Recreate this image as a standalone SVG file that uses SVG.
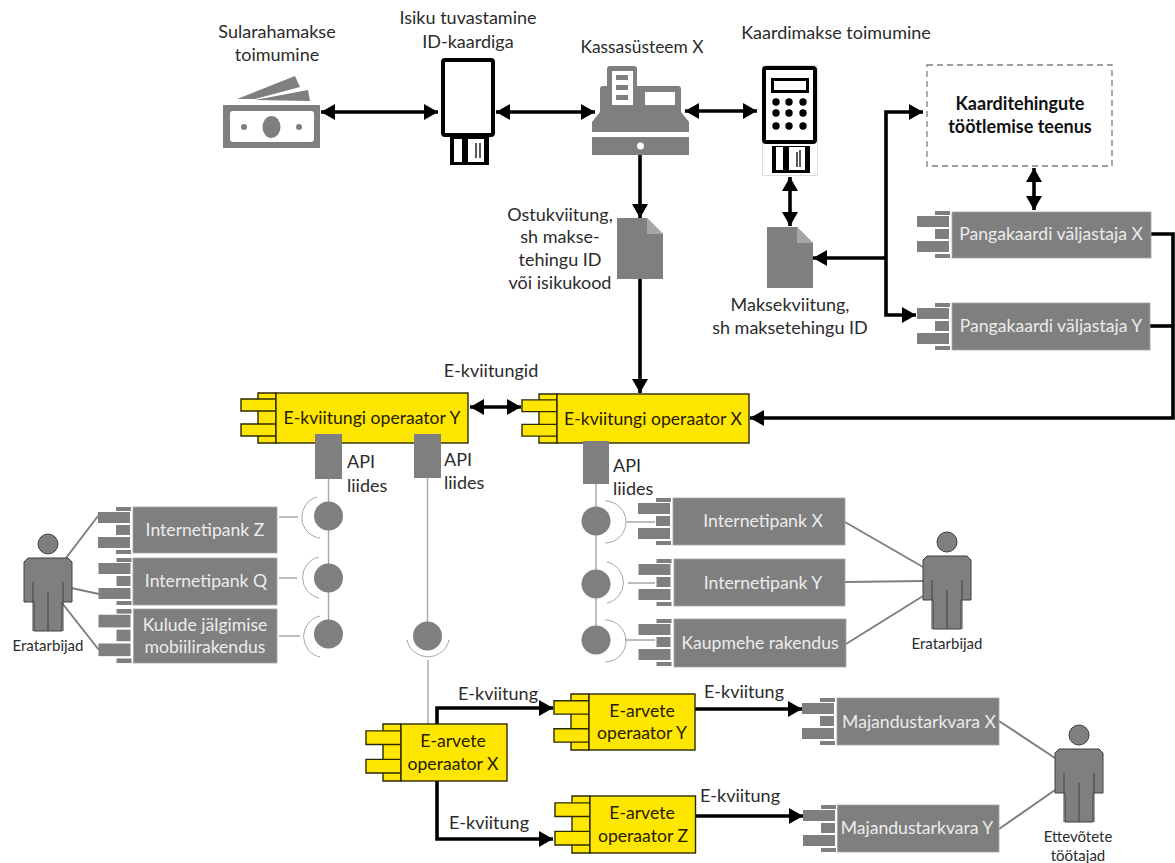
<svg xmlns="http://www.w3.org/2000/svg" width="1175" height="863" viewBox="0 0 1175 863">
<style>
text{font-family:Lato,"Liberation Sans",sans-serif;font-size:18px;fill:#2b2b2b;text-anchor:middle}
text.l{text-anchor:start}
text.w{fill:#ececec;font-size:17.6px}
text.y{fill:#262000;font-size:17.6px}
text.b{font-weight:700;fill:#111}
text.s{font-size:15px}
.g{fill:#7f7f7f}
.box{fill:#7f7f7f;stroke:#a6a6a6;stroke-width:.8}
.ybox{fill:#ffe600;stroke:#2b2b00;stroke-width:1.4}
.ytab rect{fill:#ffe600;stroke:#2b2b00;stroke-width:1.4;vector-effect:non-scaling-stroke}
.k{fill:none;stroke:#000;stroke-width:3.6}
.thin{fill:none;stroke:#a6a6a6;stroke-width:1.4}
.arc{fill:none;stroke:#a6a6a6;stroke-width:1}
.lnk{fill:none;stroke:#7f7f7f;stroke-width:2}
.a2{marker-start:url(#ah);marker-end:url(#ah)}
.a1{marker-end:url(#ah)}
</style>
<defs>
<marker id="ah" markerUnits="userSpaceOnUse" markerWidth="15" markerHeight="16" refX="14" refY="8" orient="auto-start-reverse"><path d="M0 0L14 8L0 16z" fill="#000"/></marker>
<g id="tabs" class="g"><rect x="-17" y="0" width="15" height="4"/><rect x="-35" y="5" width="32" height="11"/><rect x="-17" y="18" width="14" height="10"/><rect x="-35" y="30" width="32" height="11"/><rect x="-17" y="43" width="15" height="4"/></g>
<g id="ytabs" class="ytab"><rect x="-18" y="0" width="18" height="50"/><rect x="-35" y="6" width="35" height="12"/><rect x="-35" y="31" width="35" height="12"/></g>
<g id="person"><circle cx="0" cy="0" r="10" fill="#7f7f7f" stroke="#404040"/><path d="M-20 14H20L24 18V58H14V87H-14V58H-24V18z" fill="#7f7f7f" stroke="#404040"/><path d="M-15 38V87M15 38V87M0 48V87" fill="none" stroke="#404040"/></g>
<path id="doc" d="M0 0H30L46 16V61H0z" fill="#7f7f7f"/>
</defs>
<g id="connectors">
<path class="k a2" d="M321 112H438"/>
<path class="k a2" d="M496 112H595"/>
<path class="k a2" d="M685 111H757"/>
<path class="k a2" d="M790 177V226"/>
<path class="k a2" d="M1034 168V210"/>
<path class="k a1" d="M886 258V112H923"/>
<path class="k a1" d="M886 258V315H916"/>
<path class="k a1" d="M886 258H813"/>
<path class="k a1" d="M1151 234H1173V418H750"/>
<path class="k" d="M1150 326H1173"/>
<path class="k a1" d="M640 152V218"/>
<path class="k a1" d="M640 279V393"/>
<path class="k a2" d="M470 407H521"/>
<path class="k a1" d="M437 724V708H553"/>
<path class="k a1" d="M437 781V839H553"/>
<path class="k a1" d="M695 709H802"/>
<path class="k a1" d="M695 816H803"/>
<path class="thin" d="M328.500 479V634M427.500 478V622M428 660V724M596 484V640"/>
<path class="thin" d="M279 517H298M279 578H297M279 636H300M627 522H655M628 583H655M625 640H655"/>
<path class="arc" d="M317 497A21 21 0 0 0 320 538M319 557A21 21 0 0 0 319 598M320 616A21 21 0 0 0 320 657M407 640A21.500 21.500 0 0 0 449 640M605 501A21 21 0 0 1 605 543M607 562A21 21 0 0 1 607 603M605 620A21 21 0 0 1 605 662"/>
<path class="lnk" d="M66 558L98 516M71 588L99 594M62 603L99 650M845 522L923 567M845 582L923 581M846 644L923 596M999 721L1055 758M999 829L1055 790"/>
</g>
<g id="sularaha">
<path class="g" d="M237 99L295 76L300 87L255 99zM255 100L308 90L310 101z"/>
<rect class="g" x="223" y="105" width="97" height="43"/><rect x="230" y="111" width="84" height="31" rx="3" fill="#fff"/><ellipse class="g" cx="271.500" cy="127" rx="9" ry="11"/><circle class="g" cx="244" cy="127" r="3"/><circle class="g" cx="299" cy="127" r="3"/>
<text x="277" y="38">Sularahamakse</text><text x="277" y="61">toimumine</text>
</g>
<g id="id-lugeja">
<rect x="443" y="60" width="50" height="75" rx="2" fill="#fff" stroke="#000" stroke-width="4"/>
<rect x="450" y="137" width="39" height="28" fill="#000"/><rect x="454" y="139" width="8" height="23" fill="#fff"/><rect x="468" y="139" width="16" height="23" fill="#fff"/><path d="M476 143V158M480 143V158" stroke="#000" stroke-width="1.300"/>
<text x="468" y="24">Isiku tuvastamine</text><text x="468" y="48">ID-kaardiga</text>
</g>
<g id="kassa">
<path class="g" d="M607 86V69Q607 66 610 66H634Q637 66 637 69V86H678Q681 86 681 89V112L689 122V132H592V122L600 112V89Q600 86 603 86z"/>
<rect class="g" x="592" y="137" width="97" height="18"/>
<rect x="612" y="71" width="21" height="34" fill="#fff"/><path class="g" d="M616 75h12v5h-12zM616 85h12v5h-12zM616 95h12v5h-12z"/>
<rect x="645" y="92" width="30" height="13" fill="#fff"/><circle cx="640.500" cy="146" r="3.500" fill="#fff"/>
<text x="642" y="53" style="font-size:17.400px">Kassasüsteem X</text>
</g>
<g id="kaardilugeja">
<rect x="762.500" y="65.500" width="55" height="110" fill="#fff" stroke="#ddd"/>
<rect x="764" y="68" width="51" height="74" rx="2" fill="#fff" stroke="#000" stroke-width="4"/>
<rect x="772.500" y="79.500" width="35" height="12" fill="#fff" stroke="#000" stroke-width="3"/>
<g><circle cx="776" cy="102" r="3.700"/><circle cx="789" cy="102" r="3.700"/><circle cx="803" cy="102" r="3.700"/><circle cx="776" cy="113" r="3.700"/><circle cx="789" cy="113" r="3.700"/><circle cx="803" cy="113" r="3.700"/><circle cx="776" cy="126" r="3.700"/><circle cx="789" cy="126" r="3.700"/><circle cx="803" cy="126" r="3.700"/></g>
<rect x="772" y="146" width="38" height="27" fill="#000"/><rect x="776" y="147" width="7" height="23" fill="#fff"/><rect x="789" y="147" width="16" height="23" fill="#fff"/><path d="M797 152V167M800 150V167" stroke="#000" stroke-width="1.300"/>
<text x="836" y="39">Kaardimakse toimumine</text>
</g>
<g id="kaarditeenus">
<rect x="927" y="65" width="185" height="101" fill="#fff" stroke="#7f7f7f" stroke-width="1.300" stroke-dasharray="6 4"/>
<text class="b" x="1020" y="110">Kaarditehingute</text><text class="b" x="1020" y="133">töötlemise teenus</text>
</g>
<g id="pangakaart-x"><use href="#tabs" transform="translate(952 211)"/><rect class="box" x="952" y="212" width="199" height="46"/><text class="w" x="1051" y="240">Pangakaardi väljastaja X</text></g>
<g id="pangakaart-y"><use href="#tabs" transform="translate(952 303)"/><rect class="box" x="952" y="303" width="198" height="47"/><text class="w" x="1051" y="332">Pangakaardi väljastaja Y</text></g>
<g id="ostukviitung"><use href="#doc" transform="translate(617 218)"/><path d="M647 218V234H663z" fill="#a6a6a6"/>
<text x="560" y="221">Ostukviitung,</text><text x="560" y="243">sh makse-</text><text x="560" y="266">tehingu ID</text><text x="560" y="289">või isikukood</text></g>
<g id="maksekviitung"><use href="#doc" transform="translate(767 227)"/><path d="M797 227V243H813z" fill="#a6a6a6"/>
<text x="790" y="311">Maksekviitung,</text><text x="790" y="334">sh maksetehingu ID</text></g>
<text id="e-kviitungid" x="491" y="377">E-kviitungid</text>
<g id="operaator-y"><use href="#ytabs" transform="translate(276 393)"/><rect class="ybox" x="276" y="393" width="192" height="50"/><text class="y" x="372" y="424">E-kviitungi operaator Y</text></g>
<g id="operaator-x"><use href="#ytabs" transform="translate(557 394) scale(1 .98)"/><rect class="ybox" x="557" y="394" width="192" height="49"/><text class="y" x="653" y="425">E-kviitungi operaator X</text></g>
<g id="api-1"><rect class="g" x="315" y="434" width="27" height="45"/><text class="l" x="347" y="468">API</text><text class="l" x="347" y="492">liides</text></g>
<g id="api-2"><rect class="g" x="414" y="434" width="27" height="44"/><text class="l" x="444" y="466">API</text><text class="l" x="444" y="489">liides</text></g>
<g id="api-3"><rect class="g" x="583" y="441" width="26" height="43"/><text class="l" x="613" y="472">API</text><text class="l" x="613" y="495">liides</text></g>
<g id="liidesed" class="g"><circle cx="328.500" cy="516" r="14.500"/><circle cx="328.500" cy="578" r="14.500"/><circle cx="328.500" cy="634" r="14.500"/><circle cx="427.500" cy="636" r="14.500"/><circle cx="596" cy="521" r="14.500"/><circle cx="596" cy="584" r="14.500"/><circle cx="596" cy="640" r="14.500"/></g>
<g id="internetipank-z"><use href="#tabs" transform="translate(133 507)"/><rect class="box" x="133" y="507" width="144" height="46"/><text class="w" x="205" y="536">Internetipank Z</text></g>
<g id="internetipank-q"><use href="#tabs" transform="translate(133.500 558)"/><rect class="box" x="133" y="558" width="144" height="47"/><text class="w" x="206" y="587">Internetipank Q</text></g>
<g id="kulude"><use href="#tabs" transform="translate(133.500 609) scale(1 1.150)"/><rect class="box" x="133.500" y="609" width="143.500" height="54"/><text class="w" x="205" y="631">Kulude jälgimise</text><text class="w" x="205" y="653">mobiilirakendus</text></g>
<g id="internetipank-x"><use href="#tabs" transform="translate(673 498)"/><rect class="box" x="673" y="498" width="172" height="47"/><text class="w" x="763" y="527">Internetipank X</text></g>
<g id="internetipank-y"><use href="#tabs" transform="translate(673.500 559)"/><rect class="box" x="674" y="559" width="171" height="47"/><text class="w" x="763" y="589">Internetipank Y</text></g>
<g id="kaupmehe"><use href="#tabs" transform="translate(673.500 619)"/><rect class="box" x="674" y="619" width="172" height="48"/><text class="w" x="760" y="649">Kaupmehe rakendus</text></g>
<g id="eratarbijad-1"><use href="#person" transform="translate(48 544)"/><text class="s" x="48" y="651">Eratarbijad</text></g>
<g id="eratarbijad-2"><use href="#person" transform="translate(947 542)"/><text class="s" x="947" y="649">Eratarbijad</text></g>
<g id="arvete-x"><use href="#ytabs" transform="translate(401 724) scale(1 1.140)"/><rect class="ybox" x="401" y="724" width="106" height="57"/><text class="y" x="453" y="747">E-arvete</text><text class="y" x="453" y="770">operaator X</text></g>
<g id="arvete-y"><use href="#ytabs" transform="translate(589 694) scale(1 1.120)"/><rect class="ybox" x="589" y="694" width="106" height="56"/><text class="y" x="642" y="717">E-arvete</text><text class="y" x="642" y="739">operaator Y</text></g>
<g id="arvete-z"><use href="#ytabs" transform="translate(590 796) scale(1 1.140)"/><rect class="ybox" x="590" y="796" width="105.500" height="57"/><text class="y" x="642" y="819">E-arvete</text><text class="y" x="643" y="842">operaator Z</text></g>
<g id="silt-1"><text x="498" y="700">E-kviitung</text></g>
<g id="silt-2"><text x="489" y="829">E-kviitung</text></g>
<g id="silt-3"><text x="744" y="698">E-kviitung</text></g>
<g id="silt-4"><text x="740" y="802">E-kviitung</text></g>
<g id="majandus-x"><use href="#tabs" transform="translate(837 698)"/><rect class="box" x="837" y="698" width="162" height="47"/><text class="w" x="919" y="728">Majandustarkvara X</text></g>
<g id="majandus-y"><use href="#tabs" transform="translate(838 805)"/><rect class="box" x="837.500" y="805" width="161.500" height="47"/><text class="w" x="917" y="834">Majandustarkvara Y</text></g>
<g id="ettevotted"><use href="#person" transform="translate(1079 735)"/><text class="s" x="1078" y="842">Ettevõtete</text><text class="s" x="1078" y="861">töötajad</text></g>
</svg>
